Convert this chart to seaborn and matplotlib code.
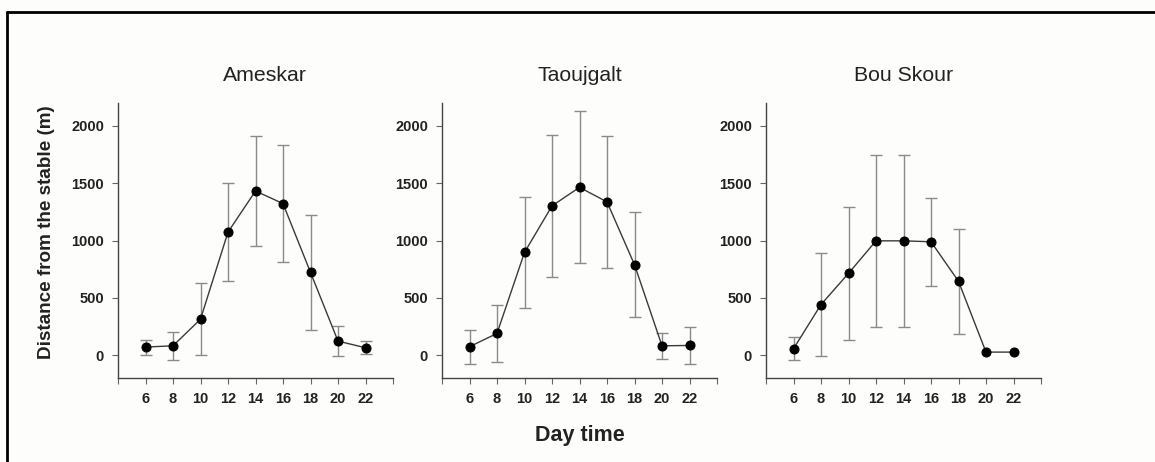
import matplotlib.pyplot as plt
import numpy as np
import pandas as pd
import seaborn as sns
from matplotlib.lines import Line2D

# Values (mean +/- SD)
hours = [6, 8, 10, 12, 14, 16, 18, 20, 22]
sites = ["Ameskar", "Taoujgalt", "Bou Skour"]

ameskar_mean = [70, 81, 313, 1073, 1432, 1322, 722, 122, 64]
ameskar_sd = [65, 122, 315, 427, 482, 508, 500, 133, 55]

taoujgalt_mean = [73, 189, 896, 1302, 1464, 1337, 789, 81, 84]
taoujgalt_sd = [148, 249, 481, 621, 662, 575, 458, 112, 165]

bouskour_mean = [55, 441, 713, 997, 997, 989, 644, 26, 26]
bouskour_sd = [100, 449, 577, 752, 752, 385, 457, np.nan, np.nan]

y_ticks = [0, 500, 1000, 1500, 2000]

frames = []
for site, m, s in zip(sites, [ameskar_mean, taoujgalt_mean, bouskour_mean],
                      [ameskar_sd, taoujgalt_sd, bouskour_sd]):
    frames.append(pd.DataFrame({"site": site, "hour": hours, "mean": m, "sd": s}))
df = pd.concat(frames, ignore_index=True)

sns.set_style("ticks")
plt.rcParams["font.family"] = ["Liberation Sans", "DejaVu Sans"]

fig = plt.figure(figsize=(11.55, 4.62), dpi=100)
fig.patch.set_facecolor("#fdfdfb")

lefts = [118 / 1155, 442 / 1155, 766 / 1155]
title_shift = [0.035, 0.0, 0.0]
width = 275 / 1155
bottom = 1 - 378 / 462
height = (378 - 103) / 462

for left, site, shift in zip(lefts, sites, title_shift):
    ax = fig.add_axes([left, bottom, width, height])
    ax.set_facecolor("none")
    sub = df[df["site"] == site]
    ax.errorbar(sub["hour"], sub["mean"], yerr=sub["sd"], fmt="none",
                ecolor="#8a8a8a", elinewidth=1.0, capsize=4, capthick=1.0, zorder=1)
    sns.lineplot(data=sub, x="hour", y="mean", ax=ax, color="#3a3a3a", linewidth=1.0,
                 marker="o", markersize=6.5, markerfacecolor="black",
                 markeredgecolor="black", zorder=3)
    ax.set_xlim(4, 24)
    ax.set_ylim(-200, 2200)
    ax.set_xticks(np.arange(4, 25, 2))
    ax.set_xticklabels([str(h) if h in hours else "" for h in range(4, 25, 2)])
    ax.set_yticks(y_ticks)
    ax.set_xlabel("")
    ax.set_ylabel("")
    ax.text(0.5 + shift, 1.10, site, transform=ax.transAxes, ha="center",
            va="center", fontsize=15.3, color="#222222")
    sns.despine(ax=ax)
    for sp in ["left", "bottom"]:
        ax.spines[sp].set_color("#444444")
        ax.spines[sp].set_linewidth(1.0)
    ax.tick_params(axis="both", direction="out", length=4, width=0.8,
                   color="#666666", labelsize=10.5, pad=6)
    for lbl in ax.get_xticklabels() + ax.get_yticklabels():
        lbl.set_fontweight("bold")
        lbl.set_color("#222222")

fig.text(47 / 1155, 1 - 232 / 462, "Distance from the stable (m)", rotation=90,
         ha="center", va="center", fontsize=13.6, fontweight="bold", color="#222222")
fig.text(580 / 1155, 1 - 436 / 462, "Day time", ha="center", va="center",
         fontsize=15.5, fontweight="bold", color="#222222")

# Frame lines on the left and top edges
fig.add_artist(Line2D([7 / 1155, 7 / 1155], [0, 1 - 12 / 462], color="black", linewidth=2))
fig.add_artist(Line2D([7 / 1155, 1], [1 - 12 / 462, 1 - 12 / 462], color="black", linewidth=2))

fig.savefig("out.png", dpi=100, facecolor=fig.get_facecolor())
